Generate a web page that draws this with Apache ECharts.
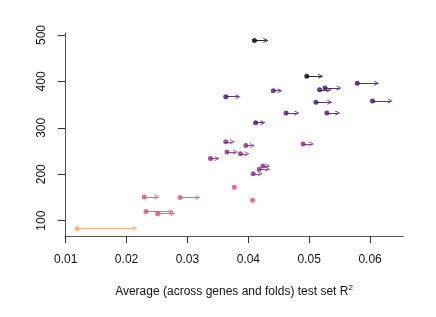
<!DOCTYPE html>
<html>
<head>
<meta charset="utf-8">
<script src="https://cdn.jsdelivr.net/npm/echarts@6/dist/echarts.min.js"></script>
<style>html,body{margin:0;padding:0;background:#fff}#c{width:436px;height:317px}</style>
</head>
<body>
<div id="c"></div>
<script>
// Data
var startR2 = [0.0410,0.0496,0.0579,0.0517,0.0526,0.0441,0.0363,0.0511,0.0604,0.0462,0.0529,0.0412,
               0.0363,0.0396,0.0490,0.0365,0.0387,0.0338,0.0424,0.0418,0.0408,0.0377,0.0407,
               0.0229,0.0288,0.0232,0.0251,0.0119];
var endR2   = [0.0429,0.0519,0.0611,0.0533,0.0549,0.0452,0.0383,0.0534,0.0633,0.0480,0.0547,0.0424,
               0.0374,0.0407,0.0504,0.0379,0.0398,0.0349,0.0432,0.0432,0.0420,null,null,
               0.0250,0.0317,0.0273,0.0276,0.0214];
var yValues = [488,411,396,382,386,380,367,355,358,332,332,311,
               270,262,265,248,244,234,218,211,201,172,144,
               151,150,120,115,83];
var groups  = [0,0,1,1,1,2,1,1,1,2,2,1,
               3,3,3,3,3,3,3,3,3,4,4,
               4,4,4,4,5];
var xTicks = [0.01,0.02,0.03,0.04,0.05,0.06];
var yTicks = [100,200,300,400,500];

var palette = ['#000004','#3c0f70','#4e127b','#862781','#e14d6c','#fda26f'];

var scatterData = yValues.map(function(y,i){
  return {value:[startR2[i], y], itemStyle:{color:palette[groups[i]]}};
});
var lineData = [];
yValues.forEach(function(y,i){
  if(endR2[i]!==null){
    lineData.push({coords:[[startR2[i],y],[endR2[i],y]], lineStyle:{color:palette[groups[i]]}});
  }
});

var chart = echarts.init(document.getElementById('c'));
var font = 'Liberation Sans, Arial, sans-serif';
var openHead = 'path://M0,10 L5,0 L10,10 L8.2,10 L5,3.6 L1.8,10 Z';
chart.setOption({
  animation:false,
  grid:{left:65,top:33,right:33,bottom:81},
  xAxis:{
    type:'value', min:0.00989, max:0.06541,
    splitLine:{show:false},
    axisLine:{lineStyle:{color:'#555',width:1}},
    axisTick:{customValues:xTicks, length:7, lineStyle:{color:'#333'}},
    axisLabel:{customValues:xTicks, margin:18, color:'#111', fontSize:12, fontFamily:font,
      formatter:function(v){return v.toFixed(2);}},
    name:'Average (across genes and folds) test set R{sup|2}',
    nameLocation:'middle', nameGap:48,
    nameTextStyle:{color:'#111', fontSize:12, fontFamily:font,
      rich:{sup:{fontSize:8, verticalAlign:'top', padding:[0,0,8,0], fontFamily:font, color:'#111'}}}
  },
  yAxis:{
    type:'value', min:67, max:504.3,
    splitLine:{show:false},
    axisLine:{show:true, lineStyle:{color:'#555',width:1}},
    axisTick:{show:true, customValues:yTicks, length:7, lineStyle:{color:'#333'}},
    axisLabel:{customValues:yTicks, rotate:90, margin:17, color:'#111', fontSize:12, fontFamily:font}
  },
  series:[
    {type:'lines', coordinateSystem:'cartesian2d', polyline:false,
     symbol:['none',openHead], symbolSize:[0,5],
     lineStyle:{width:1.2, opacity:0.85},
     data:lineData, z:2},
    {type:'scatter', symbol:'circle', symbolSize:5, data:scatterData, z:3}
  ]
});
</script>
</body>
</html>
